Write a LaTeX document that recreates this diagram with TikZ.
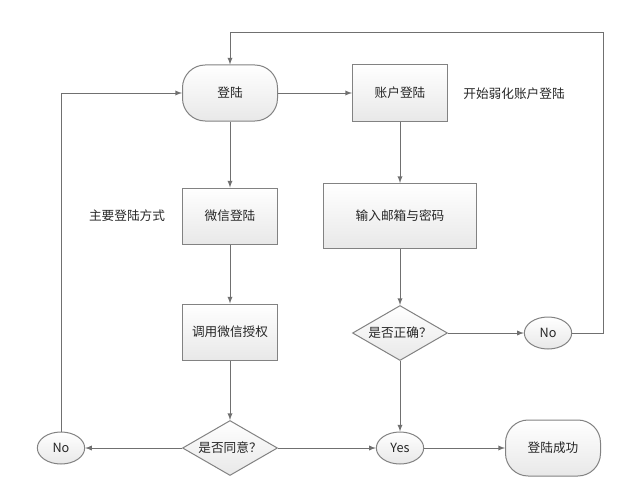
\documentclass[tikz,border=0pt]{standalone}
\usepackage{fontspec}
\setmainfont{Noto Sans CJK SC}
\usetikzlibrary{%
	shapes.geometric,%
	arrows
}
\definecolor{linegray}{RGB}{112,112,112}
\definecolor{boxgray}{RGB}{130,130,130}

\begin{document}
\begin{tikzpicture}[x=0.75pt,y=-0.75pt,>=latex,
		font=\fontsize{9.5pt}{11pt}\selectfont,
		box/.style={draw=boxgray,line width=0.75pt,top color=white,bottom color=gray!18,
			minimum width=71.25pt,minimum height=42pt,inner sep=0pt,text=black!85},
		terminal/.style={box,rounded corners=17pt},
		decision/.style={box,diamond,aspect=1.7,minimum height=41.25pt},
		answer/.style={box,ellipse,minimum width=35.5pt,minimum height=24pt},
		flow/.style={->,draw=linegray,line width=0.75pt}
	]
	\useasboundingbox (0,0) rectangle (631,503);

	% Boxes
	\node[terminal] (login) at (230,93) {登陆};
	\node[box] (account) at (400,93) {账户登陆};
	\node[box] (wechat) at (230,216) {微信登陆};
	\node[box,minimum width=114.75pt,minimum height=48.75pt] (input) at (400,216) {输入邮箱与密码};
	\node[box] (auth) at (230,332) {调用微信授权};
	\node[decision] (correct) at (400,333) {是否正确？};
	\node[answer] (noR) at (548,333) {No};
	\node[decision] (agree) at (230,448) {是否同意？};
	\node[answer] (noL) at (61,448) {No};
	\node[answer] (yes) at (400,448) {Yes};
	\node[terminal] (success) at (553,448) {登陆成功};

	% Notes
	\node[text=black!85] (mainnote) at (127,216) {主要登陆方式};
	\node[text=black!85] (accnote) at (514,94) {开始弱化账户登陆};

	% Connectors
	\coordinate (loopR) at (603,33);
	\draw[flow] (login) -- (account);
	\draw[flow] (login) -- (wechat);
	\draw[flow] (wechat) -- (auth);
	\draw[flow] (auth) -- (agree);
	\draw[flow] (agree) -- (noL);
	\draw[flow] (agree) -- (yes);
	\draw[flow] (yes) -- (success);
	\draw[flow] (account) -- (input);
	\draw[flow] (input) -- (correct);
	\draw[flow] (correct) -- (noR);
	\draw[flow] (correct) -- (yes);
	\draw[flow] (noL) |- (login);
	\draw[flow] (noR) -| (loopR) -| (login);
\end{tikzpicture}
\end{document}
